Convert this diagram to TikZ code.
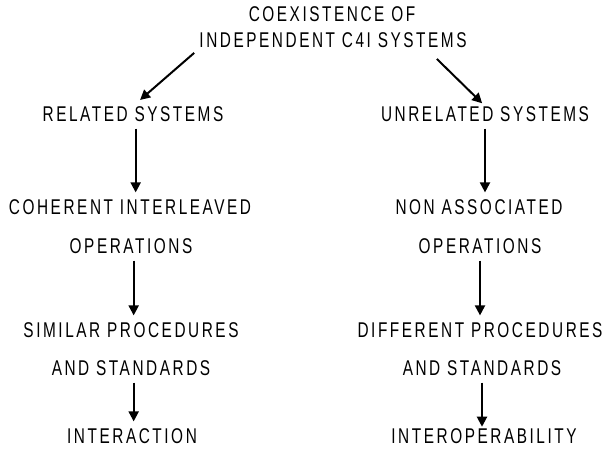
\documentclass[tikz,border=0pt]{standalone}
\usepackage{fontspec}
\setmainfont{Liberation Sans}[FakeStretch=0.72,LetterSpace=12]
\usetikzlibrary{arrows.meta}
\tikzset{
  lbl/.style={inner sep=0pt,text height=11.5pt,text depth=0pt,font=\fontsize{16}{19}\selectfont},
  arr/.style={line width=1.5pt,-{Triangle[length=7.5pt,width=7.5pt]},shorten <=5pt,shorten >=5pt}
}
\begin{document}
\begin{tikzpicture}[x=0.75pt,y=-0.75pt]
\useasboundingbox (0,0) rectangle (605,449);
\node[lbl] (top1) at (332,14) {COEXISTENCE OF};
\node[lbl] (top2) at (333,40) {INDEPENDENT C4I SYSTEMS};
% left side
\node[lbl] (rel) at (133,114) {RELATED SYSTEMS};
\node[lbl] (coh) at (130,207) {COHERENT INTERLEAVED};
\node[lbl] (cohop) at (131,246) {OPERATIONS};
\node[lbl] (sim) at (131,330) {SIMILAR PROCEDURES};
\node[lbl] (simstd) at (131,368) {AND STANDARDS};
\node[lbl] (inter) at (132,436) {INTERACTION};
% right side
\node[lbl] (unrel) at (485,114) {UNRELATED SYSTEMS};
\node[lbl] (nonass) at (479,207) {NON ASSOCIATED};
\node[lbl] (nonop) at (480,246) {OPERATIONS};
\node[lbl] (diff) at (480,330) {DIFFERENT PROCEDURES};
\node[lbl] (diffstd) at (482,368) {AND STANDARDS};
\node[lbl] (interop) at (484,436) {INTEROPERABILITY};
% arrows
\draw[arr,shorten <=0pt,shorten >=7pt] ([shift={(-5,5)}]top2.south west) -- (rel.north);
\draw[arr,shorten <=0pt,shorten >=3pt] ([shift={(-30,11)}]top2.south east) -- (unrel.north);
\draw[arr] ([xshift=2pt]rel.south) -- ([xshift=2pt]rel.south |- coh.north);
\draw[arr] ([xshift=2pt]cohop.south) -- ([xshift=2pt]cohop.south |- sim.north);
\draw[arr] ([xshift=2pt]simstd.south) -- ([xshift=2pt]simstd.south |- inter.north);
\draw[arr] (unrel.south) -- (unrel.south |- nonass.north);
\draw[arr] (nonop.south) -- (nonop.south |- diff.north);
\draw[arr,shorten >=1pt] (diffstd.south) -- (diffstd.south |- interop.north);
\end{tikzpicture}
\end{document}
